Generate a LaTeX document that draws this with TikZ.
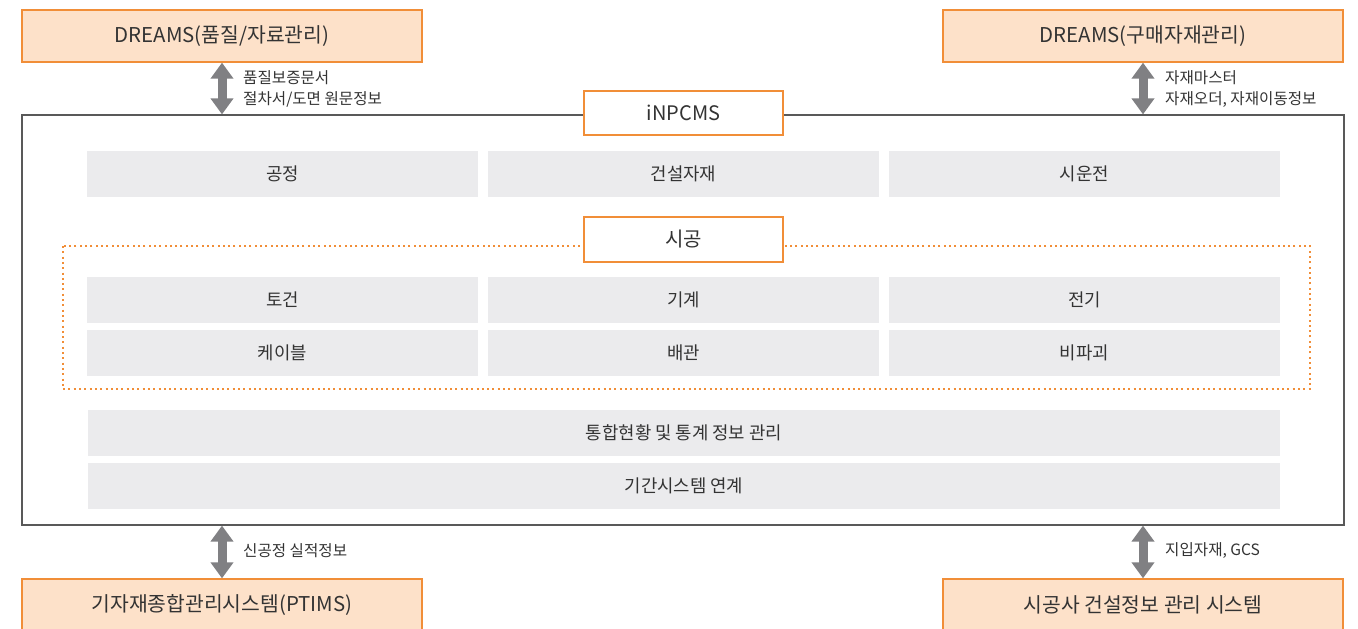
\documentclass[tikz,border=0pt]{standalone}
\usepackage{fontspec}
\setmainfont{Noto Sans CJK KR}
\usepackage{tikz}
\usetikzlibrary{calc,arrows.meta}
\definecolor{peach}{RGB}{253,225,201}
\definecolor{borange}{RGB}{241,142,56}
\definecolor{cellgray}{RGB}{235,235,237}
\definecolor{txtgray}{RGB}{51,51,51}
\definecolor{arrgray}{RGB}{128,128,131}
\tikzset{
	sysbox/.style={draw=borange,fill=peach,line width=1.3pt,minimum width=400pt,
		minimum height=52pt,inner sep=0pt,font=\fontsize{20.4}{22}\selectfont,text=txtgray},
	titlebox/.style={draw=borange,fill=white,line width=1.3pt,minimum width=199pt,
		minimum height=44pt,inner sep=0pt,font=\fontsize{20}{22}\selectfont,text=txtgray},
	cell/.style={fill=cellgray,minimum height=46pt,inner sep=0pt,
		font=\fontsize{17.8}{19}\selectfont,text=txtgray},
	bothway/.style={{Triangle[width=22pt,length=16pt]}-{Triangle[width=22pt,length=16pt]},
		draw=arrgray,line width=9pt}
}
\begin{document}
\begin{tikzpicture}[x=1pt,y=-1pt,
		mainbox/.style={draw=black!65,line width=1.2pt,minimum width=1322pt,
			minimum height=410pt,inner sep=0pt},
		note/.style={anchor=west,align=left,inner sep=0pt,text=txtgray,
			font=\fontsize{15.6}{21.5}\selectfont},
		dotline/.style={draw=borange,line width=2pt,dash pattern=on 2pt off 3.3pt}]
	\path[use as bounding box] (0,0) rectangle (1358,629);
	\clip (0,0) rectangle (1358,629);
	% outer systems
	\node[sysbox] (dq) at (222,36) {DREAMS(품질/자료관리)};
	\node[sysbox] (dp) at (1143,36) {DREAMS(구매자재관리)};
	\node[sysbox] (pt) at (222,605) {기자재종합관리시스템(PTIMS)};
	\node[sysbox] (gc) at (1143,605) {시공사 건설정보 관리 시스템};
	\node[mainbox] (main) at (683,320) {};
	% upper cells
	\foreach \x/\t/\n in {282.5/공정/a,683.5/건설자재/b,1084.5/시운전/c}
		\node[cell,minimum width=391pt] (up\n) at (\x,174) {\t};
	% construction group
	\draw[dotline] (63,246) rectangle (1310,389);
	\foreach \x/\t/\s/\n in {282.5/토건/케이블/a,683.5/기계/배관/b,1084.5/전기/비파괴/c}{
		\node[cell,minimum width=391pt] (sa\n) at (\x,300) {\t};
		\node[cell,minimum width=391pt] (sb\n) at (\x,353) {\s};
	}
	\node[cell,minimum width=1192pt] (stat) at (684,433) {통합현황 및 통계 정보 관리};
	\node[cell,minimum width=1192pt] (link) at (684,486) {기간시스템 연계};
	\node[titlebox] (inp) at (683.5,113) {iNPCMS};
	\node[titlebox,minimum height=45pt] (sg) at (683.5,239.5) {시공};
	% interfaces
	\draw[bothway] (dq.south) -- (dq.south |- main.north);
	\draw[bothway] (dp.south) -- (dp.south |- main.north);
	\draw[bothway] (main.south -| pt.north) -- (pt.north);
	\draw[bothway] (main.south -| gc.north) -- (gc.north);
	\node[note] (ndq) at (243,89) {품질보증문서\\절차서/도면 원문정보};
	\node[note] (ndp) at (1165,89) {자재마스터\\자재오더, 자재이동정보};
	\node[note] (npt) at (243,551) {신공정 실적정보};
	\node[note] (ngc) at (1165,551) {지입자재, GCS};
\end{tikzpicture}
\end{document}
